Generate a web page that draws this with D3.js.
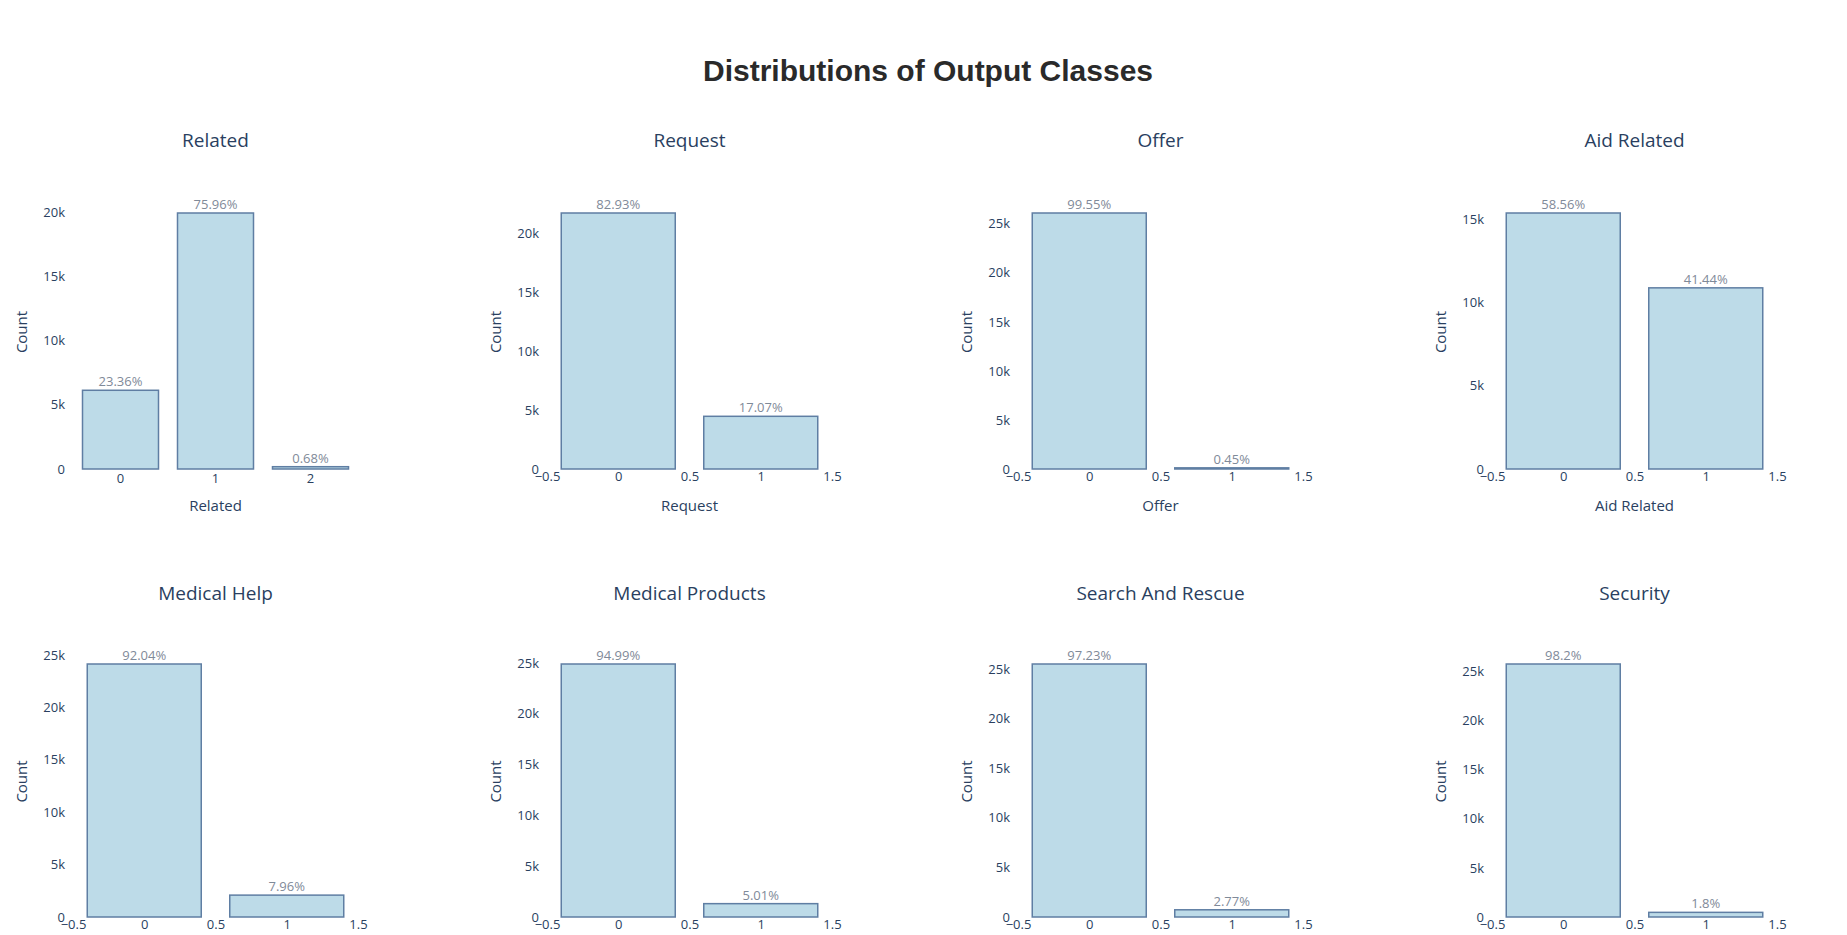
<!DOCTYPE html>
<html>
<head>
<meta charset="utf-8">
<script src="https://cdn.jsdelivr.net/npm/d3@7"></script>
<style>
  body { margin: 0; background: #fff; }
  .tick text { font-family: "Open Sans", "DejaVu Sans", sans-serif; font-size: 13px; fill: #2a3f5f; }
</style>
</head>
<body>
<svg id="chart" width="1847" height="935"></svg>
<script>
const TOTAL = 26216;

const titles = ["Related", "Request", "Offer", "Aid Related",
                "Medical Help", "Medical Products", "Search And Rescue", "Security"];
// percentage of rows per class
const pctRelated = [23.36, 75.96, 0.68];
const pctRequest = [82.93, 17.07];
const pctOffer = [99.55, 0.45];
const pctAid = [58.56, 41.44];
const pctMedHelp = [92.04, 7.96];
const pctMedProd = [94.99, 5.01];
const pctSearch = [97.23, 2.77];
const pctSecurity = [98.2, 1.8];
const pctLabels = [
  ["23.36%", "75.96%", "0.68%"], ["82.93%", "17.07%"], ["99.55%", "0.45%"], ["58.56%", "41.44%"],
  ["92.04%", "7.96%"], ["94.99%", "5.01%"], ["97.23%", "2.77%"], ["98.2%", "1.8%"]
];
const allPct = [pctRelated, pctRequest, pctOffer, pctAid, pctMedHelp, pctMedProd, pctSearch, pctSecurity];
const numTicks = [-0.5, 0, 0.5, 1, 1.5];

const svg = d3.select("#chart");
const FONT = '"Open Sans", "DejaVu Sans", sans-serif';

svg.append("text")
  .attr("x", 928).attr("y", 81)
  .attr("text-anchor", "middle")
  .attr("font-family", '"Liberation Sans", Arial, sans-serif')
  .attr("font-weight", "bold").attr("font-size", 30)
  .attr("fill", "#2a2a2a")
  .text("Distributions of Output Classes");

const colLeft = [73, 547, 1018, 1492];
const W = 285;
const rows = [{ top: 195, bottom: 469, title: 147 }, { top: 646, bottom: 917, title: 600 }];

allPct.forEach(function(pct, i) {
  const row = rows[Math.floor(i / 4)];
  const left = colLeft[i % 4];
  const counts = pct.map(p => p * TOTAL / 100);
  const g = svg.append("g");

  const maxC = d3.max(counts);
  const yMax = maxC * (row.bottom - row.top) / (row.bottom - row.top - 18);
  const y = d3.scaleLinear().domain([0, yMax]).range([row.bottom, row.top]);

  let xPos, bw;
  if (i === 0) {
    // categorical axis for the 3-class column
    const x = d3.scaleBand().domain(["0", "1", "2"]).range([left, left + W]).paddingInner(0.2).paddingOuter(0.1);
    xPos = (d, k) => x(String(k));
    bw = x.bandwidth();
    g.append("g").attr("transform", `translate(0,${row.bottom})`)
      .call(d3.axisBottom(x).tickSize(0).tickPadding(5))
      .call(a => a.select(".domain").remove());
  } else {
    const x = d3.scaleLinear().domain([-0.5, 1.5]).range([left, left + W]);
    xPos = (d, k) => x(k - 0.4);
    bw = x(0.4) - x(-0.4);
    g.append("g").attr("transform", `translate(0,${row.bottom})`)
      .call(d3.axisBottom(x).tickValues(numTicks).tickSize(0).tickPadding(3)
        .tickFormat(d => d < 0 ? "\u22120.5" : d3.format("")(d)))
      .call(a => a.select(".domain").remove());
  }

  g.append("g").attr("transform", `translate(${left - 6},0)`)
    .call(d3.axisLeft(y).tickValues(d3.range(0, yMax, 5000)).tickSize(0).tickPadding(2)
      .tickFormat(d => d === 0 ? "0" : (d / 1000) + "k"))
    .call(a => a.select(".domain").remove());

  g.selectAll("rect").data(counts).enter().append("rect")
    .attr("x", xPos).attr("width", bw)
    .attr("y", d => y(d)).attr("height", d => row.bottom - y(d))
    .attr("fill", "#bddbe8").attr("stroke", "#5f7ea3").attr("stroke-width", 1.5);

  g.selectAll("text.pct").data(counts).enter().append("text")
    .attr("class", "pct")
    .attr("x", (d, k) => xPos(d, k) + bw / 2)
    .attr("y", d => y(d) - 4)
    .attr("text-anchor", "middle")
    .attr("font-family", FONT).attr("font-size", 13).attr("fill", "#7f8a99")
    .text((d, k) => pctLabels[i][k]);

  g.append("text")
    .attr("x", left + W / 2).attr("y", row.title)
    .attr("text-anchor", "middle")
    .attr("font-family", FONT).attr("font-size", 19).attr("fill", "#2a3f5f")
    .text(titles[i]);

  g.append("text")
    .attr("transform", `translate(${left - 46},${(row.top + row.bottom) / 2}) rotate(-90)`)
    .attr("text-anchor", "middle")
    .attr("font-family", FONT).attr("font-size", 15).attr("fill", "#2a3f5f")
    .text("Count");

  if (i < 4) {
    g.append("text")
      .attr("x", left + W / 2).attr("y", 511)
      .attr("text-anchor", "middle")
      .attr("font-family", FONT).attr("font-size", 15).attr("fill", "#2a3f5f")
      .text(titles[i]);
  }
});
</script>
</body>
</html>
